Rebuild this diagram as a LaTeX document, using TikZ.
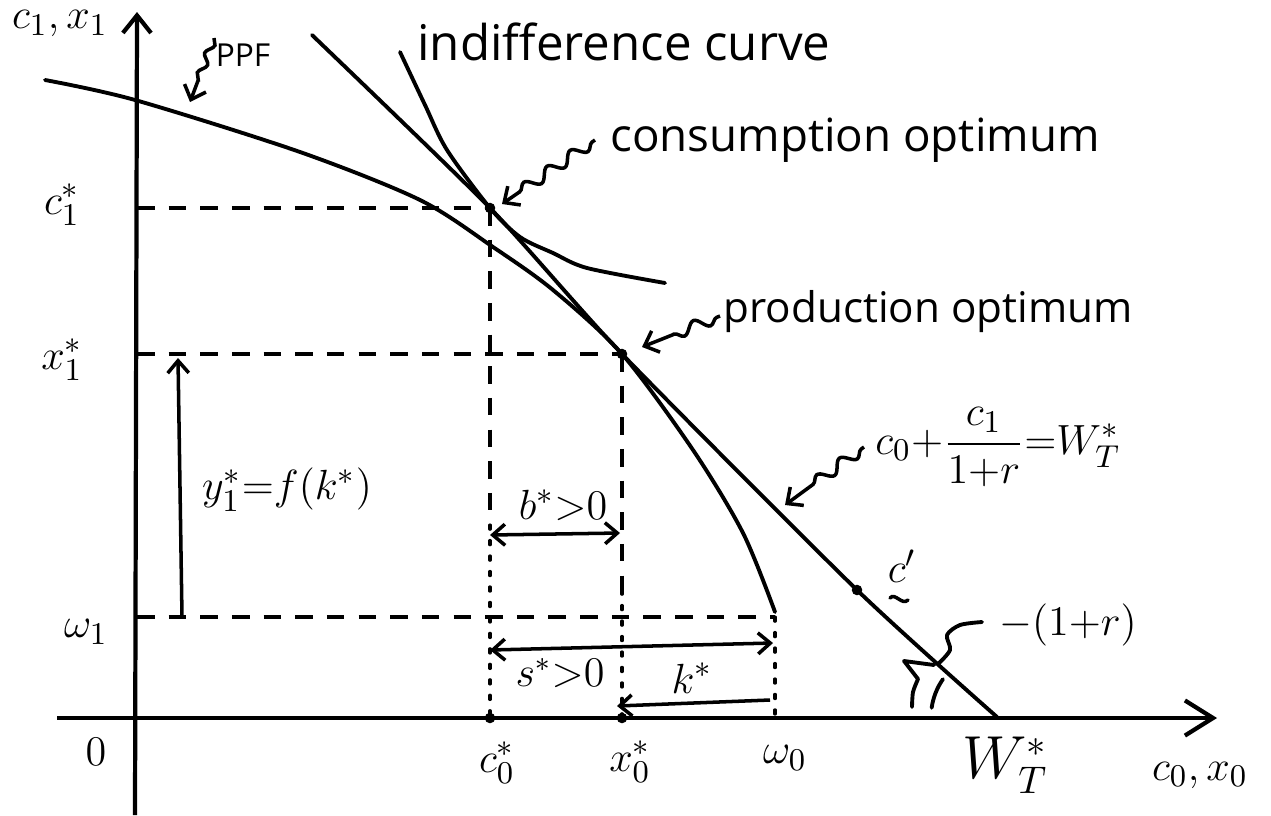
\documentclass[tikz,border=0pt]{standalone}
\usepackage{fontspec}
\setmainfont{Open Sans}
\usepackage{amsmath}
\usetikzlibrary{arrows.meta,decorations.pathmorphing}
\begin{document}
\begin{tikzpicture}[x=0.01cm,y=-0.01cm,
  curve/.style={line width=1.1pt, line cap=round, line join=round},
  guide/.style={line width=0.9pt, dash pattern=on 5pt off 4pt},
  dotguide/.style={line width=0.9pt, dash pattern=on 1.2pt off 3.2pt, line cap=round},
  yaxis/.style={line width=1.2pt, -{Straight Barb[length=5pt,width=8pt,line width=1.2pt]}},
  xaxis/.style={line width=1.2pt, -{Straight Barb[length=8pt,width=10pt,line width=1.2pt]}},
  dimr/.style={line width=1pt, -{Straight Barb[length=3.5pt,width=6pt]}},
  dimlr/.style={line width=1pt, {Straight Barb[length=3.5pt,width=6pt]}-{Straight Barb[length=3.5pt,width=6pt]}},
  squig/.style={line width=1pt, decorate, decoration={snake,amplitude=1.6pt,segment length=8pt,pre length=1pt,post length=6pt}},
  sqtip/.style={-{Straight Barb[length=3.5pt,width=6.5pt]}},
  lab/.style={inner sep=0pt, font=\fontsize{13}{15}\selectfont},
  txt/.style={inner sep=0pt},
  dot/.style={circle, fill, inner sep=0pt, minimum size=3pt}
]
\useasboundingbox (0,0) rectangle (1271,815);

% key points
\coordinate (O) at (135,718);
\coordinate (Ytop) at (137,12);
\coordinate (Ybot) at (135,815);
\coordinate (Xl) at (57,718);
\coordinate (Xr) at (1217,718);
\coordinate (CO) at (490,208);
\coordinate (PO) at (622,354);
\coordinate (Om) at (775,617);
\coordinate (Cp) at (857,590);
\coordinate (WT) at (997,717);
\coordinate (Ac1) at (137,208);
\coordinate (Ax1) at (137,354);
\coordinate (Aw1) at (137,617);
\coordinate (Bc0) at (490,718);
\coordinate (Bx0) at (622,718);
\coordinate (Bw0) at (775,718);

% axes
\draw[yaxis] (Ybot) -- (Ytop);
\draw[xaxis] (Xl) -- (Xr);

% guide lines
\draw[guide] (Ac1) -- (CO);
\draw[guide] (Ax1) -- (PO);
\draw[guide] (Aw1) -- (Om);
\coordinate (c0m) at (490,525);
\coordinate (x0m) at (622,590);
\draw[guide] (CO) -- (c0m);
\draw[dotguide] (c0m) -- (Bc0);
\draw[guide] (PO) -- (x0m);
\draw[dotguide] (x0m) -- (Bx0);
\draw[dotguide] (Om) -- (Bw0);

% PPF
\draw[curve] plot[smooth] coordinates {(45,80) (135,100) (300,152) (420,200) (493,247) (553,290) (622,354) (693,450) (743,533) (775,612)};
% budget line
\draw[curve] plot[smooth, tension=0.4] coordinates {(312,35) (490,208) (622,354) (857,590) (997,717)};
% indifference curve
\draw[curve] plot[smooth] coordinates {(400,52) (425,105) (447,150) (490,208) (520,237) (553,253) (587,268) (665,283)};

% points
\node[dot] (pCO) at (CO) {};
\node[dot] (pPO) at (PO) {};
\node[dot] (pCp) at (Cp) {};
\node[dot] (pc0) at (Bc0) {};
\node[dot] (px0) at (Bx0) {};

% dimension arrows
\coordinate (ya) at (182,617);
\coordinate (yb) at (178,358);
\draw[dimr] (ya) -- (yb);
\coordinate (ba) at (490,535);
\coordinate (bb) at (620,533);
\draw[dimlr] (ba) -- (bb);
\coordinate (sa) at (490,650);
\coordinate (sb) at (773,643);
\draw[dimlr] (sa) -- (sb);
\coordinate (ka) at (770,700);
\coordinate (kb) at (617,706);
\draw[dimr] (ka) -- (kb);

% angle mark
\draw[curve] plot[smooth] coordinates {(912,707) (913,692) (918,679)} -- (904,661) -- (934,665);
\draw[curve] (WT) ++(-172:66) arc[start angle=-172, end angle=-145, radius=66];
\draw[curve] plot[smooth] coordinates {(982,622) (960,625) (947,635) (950,650) (938,664)};

% axis labels
\node[lab] (lc1x1) at (60,24) {$c_1, x_1$};
\node[lab] (lc1) at (62,205) {$c_1^{*}$};
\node[lab] (lx1) at (62,360) {$x_1^{*}$};
\node[lab] (lw1) at (86,632) {$\omega_1$};
\node[lab] (l0) at (96,752) {$0$};
\node[lab] (lc0) at (497,763) {$c_0^{*}$};
\node[lab] (lx0) at (630,762) {$x_0^{*}$};
\node[lab] (lw0) at (785,758) {$\omega_0$};
\node[inner sep=0pt, font=\fontsize{16}{18}\selectfont] (lWT) at (1005,765) {$W_T^{*}$};
\node[lab] (lc0x0) at (1200,775) {$c_0, x_0$};

% dimension labels
\node[lab] (ly1) at (287,490) {$y_1^{*}{=}f(k^{*})$};
\node[lab] (lb) at (563,505) {$b^{*}{>}0$};
\node[inner sep=0pt, font=\fontsize{12}{14}\selectfont] (ls) at (560,673) {$s^{*}{>}0$};
\node[lab] (lk) at (692,678) {$k^{*}$};
\node[lab] (lcp) at (902,566) {$c'$};
\coordinate (tl) at (890,598);
\coordinate (tr) at (908,600);
\draw[line width=1pt, line cap=round] (tl) .. controls (895,592) and (902,606) .. (tr);
\node[inner sep=0pt, font=\fontsize{12}{14}\selectfont] (lr) at (1068,625) {$-(1{+}r)$};

% text labels
\node[txt, font=\fontsize{14}{16}\selectfont] (ict) at (624,42) {indifference curve};
\node[txt, font=\fontsize{13}{16}\selectfont] (cot) at (855,140) {consumption optimum};
\node[txt, font=\fontsize{12}{14}\selectfont] (pot) at (928,312) {production optimum};
\node[txt, font=\fontsize{9}{11}\selectfont] (ppft) at (243,55) {PPF};
\node[inner sep=0pt, font=\fontsize{13}{15}\selectfont] (eq) at (998,447) {$c_0{+}\dfrac{c_1}{1{+}r}{=}W_T^{*}$};

% squiggly pointers
\coordinate (sppf) at (214,38);
\coordinate (eppf) at (190,102);
\draw[line width=1pt, sqtip, decorate, decoration={snake,amplitude=1pt,segment length=6pt,post length=6pt}] (sppf) -- (eppf);
\coordinate (sco) at (595,140);
\coordinate (eco) at (502,204);
\draw[squig, sqtip] (sco) -- (eco);
\coordinate (spo) at (720,316);
\coordinate (epo) at (642,347);
\draw[squig, sqtip] (spo) -- (epo);
\coordinate (seq) at (864,447);
\coordinate (eeq) at (785,505);
\draw[squig, sqtip] (seq) -- (eeq);
\end{tikzpicture}
\end{document}
